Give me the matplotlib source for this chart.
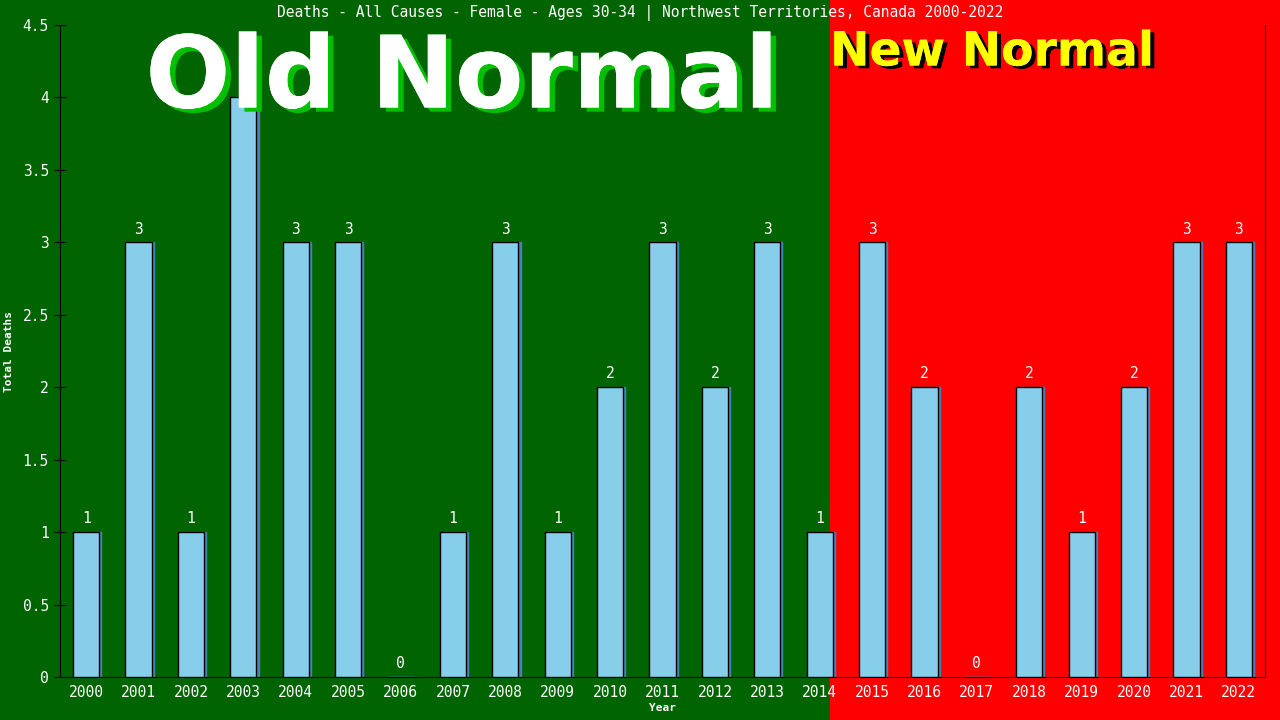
import matplotlib
matplotlib.use('Agg')
import matplotlib.pyplot as plt
import matplotlib.patheffects as pe
from matplotlib.patches import Rectangle
from matplotlib.transforms import blended_transform_factory

# data
years = list(range(2000, 2023))
deaths = [1, 3, 1, 4, 3, 3, 0, 1, 3, 1, 2, 3, 2, 3, 1, 3, 2, 0, 2, 1, 2, 3, 3]
y_ticks = [0, 0.5, 1, 1.5, 2, 2.5, 3, 3.5, 4, 4.5]
y_tick_labels = ['0', '0.5', '1', '1.5', '2', '2.5', '3', '3.5', '4', '4.5']
split_year = 2014

green = '#006400'
red = '#ff0000'
mono = 'DejaVu Sans Mono'

fig = plt.figure(figsize=(12.8, 7.2), dpi=100, facecolor=green)
ax = fig.add_axes([60 / 1280, 43 / 720, 1205 / 1280, 652 / 720])
ax.set_facecolor('none')
ax.set_zorder(2)

x = list(range(len(years)))

# red "new normal" background from the split to the right edge of the figure
split_x = years.index(split_year) + 0.2
trans = blended_transform_factory(ax.transData, fig.transFigure)
fig.patches.append(Rectangle((split_x, 0), 100, 1, transform=trans,
                             facecolor=red, edgecolor='none', zorder=-5))

# bars with a small blue shadow on the right
ax.bar([i + 0.04 for i in x], deaths, width=0.5, color='#4682b4',
       edgecolor='#4682b4', linewidth=1, zorder=2)
edges = ['black' if d > 0 else '#4682b4' for d in deaths]
ax.bar(x, deaths, width=0.5, color='#87ceeb', edgecolor=edges,
       linewidth=1, zorder=3)

for i, d in zip(x, deaths):
    ax.text(i, d + 0.04, str(d), ha='center', va='bottom', color='white',
            fontsize=10.5, family=mono, zorder=4)

ax.set_xlim(-0.5, len(years) - 0.5)
ax.set_ylim(0, 4.5)
ax.set_xticks(x)
ax.set_xticklabels([str(y) for y in years], color='white', fontsize=10.5,
                   family=mono)
ax.tick_params(axis='x', length=0, pad=6)
ax.set_yticks(y_ticks)
ax.set_yticklabels(y_tick_labels, color='white', fontsize=10.5, family=mono)
ax.tick_params(axis='y', direction='inout', length=8, color='black', pad=4)

for side in ['left', 'bottom', 'right']:
    ax.spines[side].set_color('black')
ax.spines['top'].set_visible(False)

ax.set_xlabel('Year', color='white', fontsize=8, family=mono,
              fontweight='bold', labelpad=2)
ax.set_ylabel('Total Deaths', color='white', fontsize=8, family=mono,
              fontweight='bold', labelpad=6)

fig.text(0.5, 1 - 13 / 720, 'Deaths - All Causes - Female - Ages 30-34 | '
         'Northwest Territories, Canada 2000-2022', ha='center', va='center',
         color='white', fontsize=10.5, family=mono)

# big overlay labels
fig.text(462 / 1280, 1 - 80 / 720, 'Old Normal', ha='center', va='center',
         color='white', fontsize=72, fontweight='bold', family='DejaVu Sans',
         zorder=10,
         path_effects=[pe.withSimplePatchShadow(offset=(4, -3),
                                                shadow_rgbFace='#00c000',
                                                alpha=1.0),
                       pe.Normal()])
fig.text(830 / 1280, 1 - 53 / 720, 'New Normal', ha='left', va='center',
         color='yellow', fontsize=34, fontweight='bold', family='DejaVu Sans',
         zorder=10,
         path_effects=[pe.withSimplePatchShadow(offset=(3, -2),
                                                shadow_rgbFace='black',
                                                alpha=1.0),
                       pe.Normal()])

fig.savefig('out.png', dpi=100, facecolor=fig.get_facecolor())
